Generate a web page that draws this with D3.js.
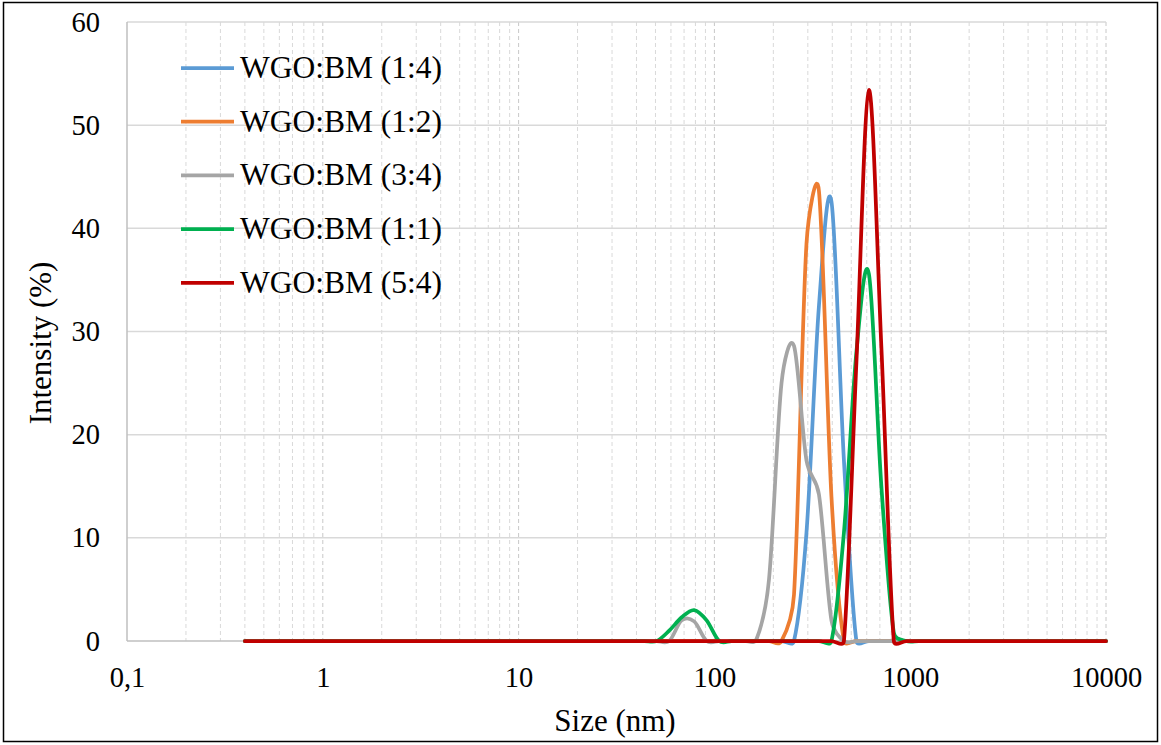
<!DOCTYPE html>
<html><head><meta charset="utf-8">
<script src="https://cdn.jsdelivr.net/npm/d3@7"></script>
<style>body{margin:0;background:#fff}svg{display:block}</style>
</head><body>
<svg id="c" width="1161" height="745"></svg>
<script>
// Size bins (nm)
const sizes = [0.4,0.4632,0.5365,0.6213,0.7195,0.8332,0.9649,1.117,1.294,1.499,1.736,2.01,2.328,2.696,3.122,3.615,4.187,4.849,5.615,6.503,7.531,8.721,10.1,11.7,13.54,15.69,18.17,21.04,24.36,28.21,32.67,37.84,43.82,50.75,58.77,68.06,78.82,91.28,105.7,122.4,141.8,164.2,190.1,220.2,255,295.3,342,396.1,458.7,531.2,615.1,712.4,825,955.4,1106,1281,1484,1718,1990,2305,2669,3091,3580,4145,4801,5560,6439,7456,8635,10000];
const seriesNames = ["WGO:BM (1:4)","WGO:BM (1:2)","WGO:BM (3:4)","WGO:BM (1:1)","WGO:BM (5:4)"];
const seriesColors = ["#5b9bd5","#ed7d31","#a5a5a5","#00b050","#c00000"];
const s14 = [0,0,0,0,0,0,0,0,0,0, 0,0,0,0,0,0,0,0,0,0, 0,0,0,0,0,0,0,0,0,0, 0,0,0,0,0,0,0,0,0,0, 0,0,0,0,0,10.5,32.5,42.6,17.5,0, 0,0,0,0,0,0,0,0,0,0, 0,0,0,0,0,0,0,0,0,0];
const s12 = [0,0,0,0,0,0,0,0,0,0, 0,0,0,0,0,0,0,0,0,0, 0,0,0,0,0,0,0,0,0,0, 0,0,0,0,0,0,0,0,0,0, 0,0,0,0,4.5,38.5,43.6,14.0,0,0, 0,0,0,0,0,0,0,0,0,0, 0,0,0,0,0,0,0,0,0,0];
const s34 = [0,0,0,0,0,0,0,0,0,0, 0,0,0,0,0,0,0,0,0,0, 0,0,0,0,0,0,0,0,0,0, 0,0,0,0,0,2.0,1.9,0,0,0, 0,0.2,6.0,25.0,28.6,17.5,14.2,2.0,0,0, 0,0,0,0,0,0,0,0,0,0, 0,0,0,0,0,0,0,0,0,0];
const s11 = [0,0,0,0,0,0,0,0,0,0, 0,0,0,0,0,0,0,0,0,0, 0,0,0,0,0,0,0,0,0,0, 0,0,0,0,1.0,2.3,3.0,2.0,0,0, 0,0,0,0,0,0,0,0,10.5,28.0, 35.6,15.0,0.8,0,0,0,0,0,0,0, 0,0,0,0,0,0,0,0,0,0];
const s54 = [0,0,0,0,0,0,0,0,0,0, 0,0,0,0,0,0,0,0,0,0, 0,0,0,0,0,0,0,0,0,0, 0,0,0,0,0,0,0,0,0,0, 0,0,0,0,0,0,0,0,0,27.0, 53.4,28.5,0,0,0,0,0,0,0,0, 0,0,0,0,0,0,0,0,0,0];
const seriesValues = [s14,s12,s34,s11,s54];
const xTicks = [0.1,1,10,100,1000,10000];
const xTickLabels = ["0,1","1","10","100","1000","10000"];
const yTicks = [0,10,20,30,40,50,60];

// Excel-like smoothed curve: Catmull-Rom tangents with control arms capped at half the segment length
function ExcelSmooth(context){ this._context = context; }
ExcelSmooth.prototype = {
  areaStart(){ this._line = 0; }, areaEnd(){ this._line = NaN; },
  lineStart(){ this._pts = []; },
  point(x,y){ this._pts.push([+x,+y]); },
  lineEnd(){
    const p = this._pts, c = this._context, n = p.length;
    if (!n) return;
    c.moveTo(p[0][0],p[0][1]);
    const arm = (a,b,segLen)=>{
      let dx=(b[0]-a[0])/6, dy=(b[1]-a[1])/6;
      const l=Math.hypot(dx,dy), m=segLen/2;
      if (l>m && l>0){ dx*=m/l; dy*=m/l; }
      return [dx,dy];
    };
    for (let i=0;i<n-1;i++){
      const p0=p[Math.max(i-1,0)], p1=p[i], p2=p[i+1], p3=p[Math.min(i+2,n-1)];
      const seg=Math.hypot(p2[0]-p1[0],p2[1]-p1[1]);
      const a1=arm(p0,p2,seg), a2=arm(p1,p3,seg);
      c.bezierCurveTo(p1[0]+a1[0],p1[1]+a1[1],p2[0]-a2[0],p2[1]-a2[1],p2[0],p2[1]);
    }
  }
};
const excelCurve = ctx => new ExcelSmooth(ctx);

const svg = d3.select("#c");
const L=127, R=1106, T=22, B=641;
const x = d3.scaleLog().domain([0.1,10000]).range([L,R]);
const y = d3.scaleLinear().domain([0,60]).range([B,T]);
const font = "'Liberation Serif','Times New Roman',serif";

// outer border
svg.append("rect").attr("x",3.5).attr("y",2.5).attr("width",1154).attr("height",739)
  .attr("fill","none").attr("stroke","#000").attr("stroke-width",1.5);

// minor/major vertical gridlines
const vlines = [];
for (let e=-1; e<4; e++) for (let k=1;k<10;k++) vlines.push(k*Math.pow(10,e));
vlines.push(10000);
svg.append("g").selectAll("line").data(vlines.filter(v=>v>0.1)).join("line")
  .attr("x1",d=>x(d)).attr("x2",d=>x(d)).attr("y1",T).attr("y2",B)
  .attr("stroke",d=>xTicks.includes(+d.toPrecision(6))?"#c8c8c8":"#d9d9d9")
  .attr("stroke-width",1).attr("stroke-dasharray","4,3");

// horizontal gridlines
svg.append("g").selectAll("line").data(yTicks.filter(v=>v>0)).join("line")
  .attr("x1",L).attr("x2",R).attr("y1",d=>y(d)).attr("y2",d=>y(d))
  .attr("stroke","#d9d9d9").attr("stroke-width",1.5);

// axes lines
svg.append("line").attr("x1",L).attr("x2",L).attr("y1",T).attr("y2",B).attr("stroke","#bfbfbf").attr("stroke-width",1.5);
svg.append("line").attr("x1",L).attr("x2",R).attr("y1",B).attr("y2",B).attr("stroke","#bfbfbf").attr("stroke-width",1.5);

// y axis labels
const yAxis = d3.axisLeft(y).tickValues(yTicks).tickSize(0).tickPadding(27);
const gy = svg.append("g").attr("transform",`translate(${L},0)`).call(yAxis);
gy.select(".domain").remove();
gy.selectAll("text").attr("font-family",font).attr("font-size",28.5).attr("fill","#000");

// x axis labels
const xAxis = d3.axisBottom(x).tickValues(xTicks).tickSize(0).tickPadding(26)
  .tickFormat((d,i)=>xTickLabels[i]);
const gx = svg.append("g").attr("transform",`translate(0,${B})`).call(xAxis);
gx.select(".domain").remove();
gx.selectAll("text").attr("font-family",font).attr("font-size",28.5).attr("fill","#000");

// axis titles
svg.append("text").attr("x",615).attr("y",731).attr("text-anchor","middle")
  .attr("font-family",font).attr("font-size",31).text("Size (nm)");
svg.append("text").attr("transform","translate(51,343) rotate(-90)").attr("text-anchor","middle")
  .attr("font-family",font).attr("font-size",31).text("Intensity (%)");

// series lines
const line = d3.line().x((d,i)=>x(sizes[i])).y(d=>y(d)).curve(excelCurve);
svg.append("g").selectAll("path").data(seriesValues).join("path")
  .attr("d",d=>line(d)).attr("fill","none")
  .attr("stroke",(d,i)=>seriesColors[i]).attr("stroke-width",3.75)
  .attr("stroke-linejoin","round").attr("stroke-linecap","round");

// legend
const leg = svg.append("g");
seriesNames.forEach((n,i)=>{
  const yy = 68 + i*53.7;
  leg.append("line").attr("x1",181).attr("x2",234).attr("y1",yy).attr("y2",yy)
    .attr("stroke",seriesColors[i]).attr("stroke-width",3.75);
  leg.append("text").attr("x",240).attr("y",yy+10).attr("font-family",font)
    .attr("font-size",31.5).text(n);
});
</script>
</body></html>
